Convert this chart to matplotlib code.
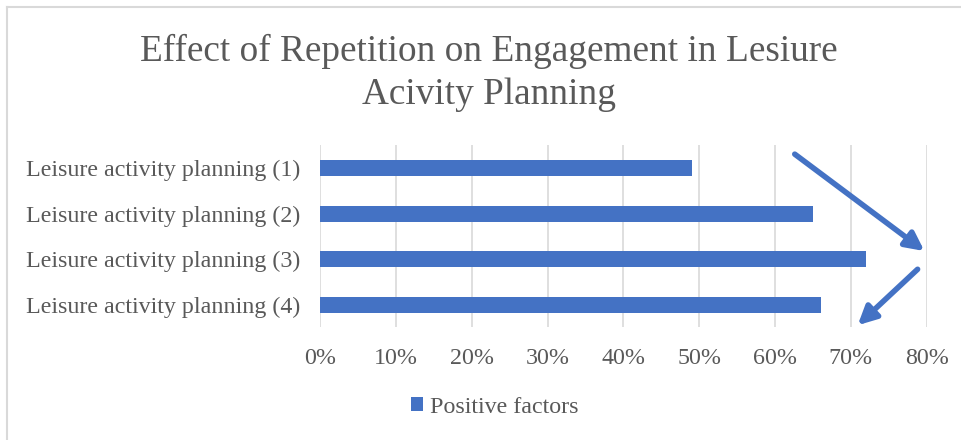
import matplotlib
matplotlib.use("Agg")
import matplotlib.pyplot as plt
from matplotlib.lines import Line2D
from matplotlib.patches import Patch
from matplotlib.ticker import FuncFormatter

categories = ["Leisure activity planning (1)", "Leisure activity planning (2)",
              "Leisure activity planning (3)", "Leisure activity planning (4)"]
positive = [49, 65, 72, 66]
xticks = [0, 10, 20, 30, 40, 50, 60, 70, 80]
series_name = "Positive factors"
title = "Effect of Repetition on Engagement in Lesiure\nAcivity Planning"

BLUE = "#4472C4"
TXT = "#595959"
GRID = "#D9D9D9"

plt.rcParams['font.family'] = ['Liberation Serif', 'DejaVu Serif']

fig = plt.figure(figsize=(9.62, 4.40), dpi=100)
# chart-area border (left and top edges visible)
fig.add_artist(Line2D([7.5/962, 7.5/962], [0, 1-7.5/440], transform=fig.transFigure,
                      color=GRID, linewidth=1.5))
fig.add_artist(Line2D([7.5/962, 1], [1-7.5/440, 1-7.5/440], transform=fig.transFigure,
                      color=GRID, linewidth=1.5))

ax = fig.add_axes([320/962, 1-327.5/440, (926.7-320)/962, (327.5-145.5)/440])

y = list(range(len(categories)))
ax.barh(y, positive, height=0.36, color=BLUE, zorder=3)
ax.set_ylim(len(categories)-0.5, -0.5)
ax.set_xlim(0, 80)
ax.set_xticks(xticks)
ax.xaxis.set_major_formatter(FuncFormatter(lambda v, p: f"{int(v)}%"))
ax.set_yticks(y)
ax.set_yticklabels(categories)
ax.grid(axis='x', color=GRID, linewidth=1.2, zorder=0)
for s in ax.spines.values():
    s.set_visible(False)
ax.tick_params(length=0, labelsize=17.3, colors=TXT)
ax.tick_params(axis='x', pad=15)
ax.tick_params(axis='y', pad=14)

fig.text(0.508, 1-73/440, title, ha='center', va='center', fontsize=26.8,
         color=TXT, linespacing=1.3)

leg = fig.legend(handles=[Patch(facecolor=BLUE, label=series_name)],
                 loc='center', bbox_to_anchor=(495/962, 1-407/440), frameon=False,
                 fontsize=17.3, handlelength=0.5, handleheight=0.5, handletextpad=0.3)
for t in leg.get_texts():
    t.set_color(TXT)

arrow_kw = dict(arrowstyle='-|>,head_length=1.1,head_width=0.55', color=BLUE, lw=4,
                shrinkA=0, shrinkB=0)
ax.annotate("", xy=(79.7, 1.82), xytext=(62.6, -0.31), arrowprops=arrow_kw,
            annotation_clip=False)
ax.annotate("", xy=(70.9, 3.45), xytext=(78.8, 2.22), arrowprops=arrow_kw,
            annotation_clip=False)

fig.savefig("out.png", dpi=100)
